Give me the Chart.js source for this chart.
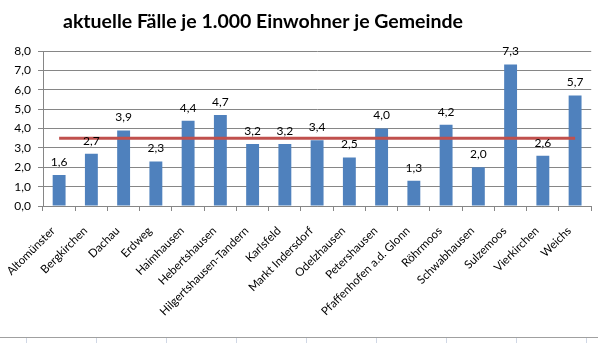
<!DOCTYPE html>
<html>

<head>
    <meta charset="utf-8">
    <title>aktuelle Fälle je 1.000 Einwohner je Gemeinde</title>
    <script src="https://cdn.jsdelivr.net/npm/chart.js"></script>
    <style>
        body { margin: 0; background: #fff; }
    </style>
</head>

<body>
<canvas id="faelleChart" width="598" height="343"></canvas>
<script>
    var gemeinden = ['Altomünster', 'Bergkirchen', 'Dachau', 'Erdweg', 'Haimhausen', 'Hebertshausen',
        'Hilgertshausen-Tandern', 'Karlsfeld', 'Markt Indersdorf', 'Odelzhausen', 'Petershausen',
        'Pfaffenhofen a.d. Glonn', 'Röhrmoos', 'Schwabhausen', 'Sulzemoos', 'Vierkirchen', 'Weichs'];
    var faelle = [1.6, 2.7, 3.9, 2.3, 4.4, 4.7, 3.2, 3.2, 3.4, 2.5, 4.0, 1.3, 4.2, 2.0, 7.3, 2.6, 5.7];
    var durchschnitt = [3.5, 3.5, 3.5, 3.5, 3.5, 3.5, 3.5, 3.5, 3.5, 3.5, 3.5, 3.5, 3.5, 3.5, 3.5, 3.5, 3.5];
    var yTicks = [0, 1, 2, 3, 4, 5, 6, 7, 8];
    var titel = 'aktuelle Fälle je 1.000 Einwohner je Gemeinde';

    function komma(v) {
        return Number(v).toFixed(1).replace('.', ',');
    }

    // title, values above bars and the sheet grid below the chart
    var extras = {
        id: 'extras',
        afterDatasetsDraw: function (chart) {
            var ctx = chart.ctx;
            var meta = chart.getDatasetMeta(0);
            ctx.save();
            ctx.font = '12px Lato';
            ctx.fillStyle = '#000';
            ctx.textAlign = 'center';
            ctx.textBaseline = 'bottom';
            meta.data.forEach(function (bar, i) {
                ctx.fillText(komma(faelle[i]), bar.x, bar.y - 7);
            });
            ctx.restore();
        },
        afterDraw: function (chart) {
            var ctx = chart.ctx;
            ctx.save();
            ctx.font = 'bold 19.5px Lato';
            ctx.fillStyle = '#000';
            ctx.textAlign = 'center';
            ctx.textBaseline = 'alphabetic';
            ctx.fillText(titel, 263, 28);

            ctx.strokeStyle = '#a0a0a0';
            ctx.lineWidth = 1;
            ctx.beginPath();
            ctx.moveTo(0, 337.5);
            ctx.lineTo(598, 337.5);
            ctx.stroke();
            ctx.strokeStyle = '#d0d7e5';
            ctx.beginPath();
            for (var x = 26.5; x < 598; x += 70) {
                ctx.moveTo(x, 338);
                ctx.lineTo(x, 343);
            }
            ctx.stroke();
            ctx.restore();
        }
    };

    var ctx = document.getElementById('faelleChart').getContext('2d');
    var chart = new Chart(ctx, {
        type: 'bar',
        data: {
            labels: gemeinden,
            datasets: [{
                label: 'Fälle je 1.000 Einwohner',
                data: faelle,
                backgroundColor: '#4F81BD',
                categoryPercentage: 1,
                barPercentage: 0.4,
                order: 2
            }, {
                type: 'line',
                label: 'Durchschnitt',
                data: durchschnitt,
                borderColor: '#C0504D',
                borderWidth: 3,
                pointRadius: 0,
                fill: false,
                order: 1
            }]
        },
        options: {
            responsive: false,
            animation: false,
            layout: {
                padding: { top: 51, right: 5, left: 0, bottom: 0 }
            },
            plugins: {
                legend: { display: false },
                tooltip: { enabled: false }
            },
            scales: {
                x: {
                    offset: true,
                    afterFit: function (scale) { scale.height = 137; },
                    grid: {
                        offset: true,
                        drawOnChartArea: false,
                        tickLength: 5,
                        color: '#868686'
                    },
                    border: { color: '#868686' },
                    ticks: {
                        autoSkip: false,
                        maxRotation: 45,
                        minRotation: 45,
                        padding: 13,
                        labelOffset: -6,
                        color: '#000',
                        font: { family: 'Lato', size: 11.5 }
                    }
                },
                y: {
                    min: 0,
                    max: 8,
                    afterFit: function (scale) { scale.width = 43; },
                    afterBuildTicks: function (scale) {
                        scale.ticks = yTicks.map(function (v) { return { value: v }; });
                    },
                    grid: {
                        color: '#868686',
                        tickLength: 5
                    },
                    border: { color: '#868686' },
                    ticks: {
                        padding: 7,
                        color: '#000',
                        font: { family: 'Lato', size: 12 },
                        callback: function (v) { return komma(v); }
                    }
                }
            }
        },
        plugins: [extras]
    });
</script>
</body>

</html>
